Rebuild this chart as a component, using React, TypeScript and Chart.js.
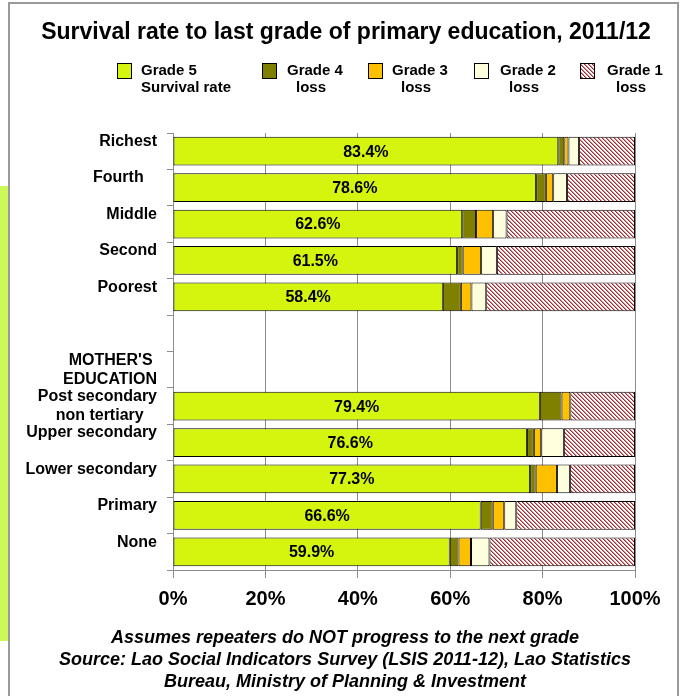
import React, { useEffect, useRef } from "react";
import { Chart, registerables } from "chart.js";
Chart.register(...registerables);

const categories: (string | string[])[] = [
  ["Richest", ""],
  ["Fourth   ", ""],
  ["Middle", ""],
  ["Second", ""],
  ["Poorest", ""],
  "",
  ["MOTHER'S ", "EDUCATION"],
  ["Post secondary", "non tertiary   "],
  ["Upper secondary", ""],
  ["Lower secondary", ""],
  ["Primary", ""],
  ["None", ""],
];

const grade5 = [83.4, 78.6, 62.6, 61.5, 58.4, null, null, 79.4, 76.6, 77.3, 66.6, 59.9];
const grade4 = [1.3, 2.1, 3.0, 1.2, 3.9, null, null, 4.7, 1.5, 1.2, 2.6, 1.9];
const grade3 = [0.9, 1.6, 3.7, 4.0, 2.3, null, null, 1.9, 1.6, 4.6, 2.5, 2.7];
const grade2 = [2.3, 3.0, 2.9, 3.4, 3.2, null, null, 0, 4.9, 2.8, 2.6, 4.0];
const grade1 = [12.1, 14.7, 27.8, 29.9, 32.2, null, null, 14.0, 15.4, 14.1, 25.7, 31.5];

const seriesNames = [
  ["Grade 5", "Survival rate"],
  ["Grade 4", "loss"],
  ["Grade 3", "loss"],
  ["Grade 2", "loss"],
  ["Grade 1", "loss"],
];
const seriesColors = ["#d6f50e", "#808000", "#ffc000", "#ffffdd", "hatch"];

const xTickStep = 20;
const titleText = "Survival rate to last grade of primary education, 2011/12";
const notes = [
  "Assumes repeaters do NOT progress to the next grade",
  "Source: Lao Social Indicators Survey (LSIS 2011-12), Lao Statistics",
  "Bureau, Ministry of Planning & Investment",
];

const SANS = "'Liberation Sans', Arial, sans-serif";

function makeHatch(ctx: CanvasRenderingContext2D): CanvasPattern | string {
  const c = document.createElement("canvas");
  c.width = 4;
  c.height = 4;
  const g = c.getContext("2d");
  if (!g) return "#e0b0b0";
  const img = g.createImageData(4, 4);
  for (let y = 0; y < 4; y++) {
    for (let x = 0; x < 4; x++) {
      const d = (((x - y) % 4) + 4) % 4;
      const col = d === 0 ? [160, 40, 50] : d === 1 ? [215, 145, 145] : [255, 255, 255];
      const i = (y * 4 + x) * 4;
      img.data[i] = col[0];
      img.data[i + 1] = col[1];
      img.data[i + 2] = col[2];
      img.data[i + 3] = 255;
    }
  }
  g.putImageData(img, 0, 0);
  return ctx.createPattern(c, "repeat") || "#e0b0b0";
}

export default function App() {
  const ref = useRef<HTMLCanvasElement | null>(null);

  useEffect(() => {
    const canvas = ref.current;
    if (!canvas) return;
    const ctx0 = canvas.getContext("2d")!;
    const hatch = makeHatch(ctx0);
    const fills = seriesColors.map((c) => (c === "hatch" ? hatch : c));
    const seriesData = [grade5, grade4, grade3, grade2, grade1];

    const decorPlugin = {
      id: "decor",
      afterDatasetsDraw(chart: any) {
        const ctx = chart.ctx as CanvasRenderingContext2D;
        const meta = chart.getDatasetMeta(0);
        ctx.save();
        ctx.fillStyle = "#000";
        ctx.font = `bold 16px ${SANS}`;
        ctx.textAlign = "center";
        ctx.textBaseline = "middle";
        meta.data.forEach((el: any, i: number) => {
          const v = grade5[i];
          if (v === null || v === undefined) return;
          ctx.fillText(v.toFixed(1) + "%", (el.x + el.base) / 2, el.y + 1);
        });
        ctx.restore();
      },
      afterDraw(chart: any) {
        const ctx = chart.ctx as CanvasRenderingContext2D;
        ctx.save();
        ctx.fillStyle = "#000";
        ctx.textBaseline = "middle";
        // title
        ctx.font = `bold 23px ${SANS}`;
        ctx.textAlign = "center";
        ctx.fillText(titleText, 346, 33);
        // legend
        const boxX = [117, 262, 368, 474, 580];
        const textX = [141, 287, 392, 500, 607];
        const line2Off = [0, 9, 9, 9, 9];
        ctx.font = `bold 15px ${SANS}`;
        ctx.textAlign = "left";
        seriesNames.forEach((nm, i) => {
          ctx.fillStyle = fills[i] as any;
          ctx.fillRect(boxX[i], 63, 15, 16);
          ctx.strokeStyle = "#000";
          ctx.lineWidth = 1;
          ctx.strokeRect(boxX[i] + 0.5, 63.5, 14, 15);
          ctx.fillStyle = "#000";
          ctx.fillText(nm[0], textX[i], 71);
          ctx.fillText(nm[1], textX[i] + line2Off[i], 88);
        });
        // notes
        ctx.font = `italic bold 18px ${SANS}`;
        ctx.textAlign = "center";
        notes.forEach((t, i) => ctx.fillText(t, 345, 638 + i * 22));
        ctx.restore();
      },
    };

    const chart = new Chart(canvas, {
      type: "bar",
      data: {
        labels: categories as any,
        datasets: seriesData.map((d, i) => ({
          label: seriesNames[i].join(" "),
          data: d as any,
          backgroundColor: fills[i] as any,
          borderColor: "#000",
          borderWidth: 1,
          borderSkipped: false,
          barPercentage: 0.79,
          categoryPercentage: 1.0,
        })),
      },
      options: {
        responsive: false,
        animation: false,
        indexAxis: "y",
        layout: { padding: { top: 133, right: 45, left: 0, bottom: 0 } },
        plugins: {
          legend: { display: false },
          title: { display: false },
          tooltip: { enabled: false },
        },
        scales: {
          x: {
            stacked: true,
            min: 0,
            max: 100,
            ticks: {
              stepSize: xTickStep,
              callback: (v: any) => v + "%",
              color: "#000",
              padding: 9,
              font: { family: SANS, size: 20, weight: "bold" },
            },
            grid: { color: "#8c8c8c", tickLength: 8, lineWidth: 1 },
            border: { color: "#8c8c8c" },
            afterFit: (s: any) => {
              s.height = 126;
            },
          },
          y: {
            stacked: true,
            ticks: {
              color: "#000",
              padding: 10,
              autoSkip: false,
              font: { family: SANS, size: 16, weight: "bold", lineHeight: 1.2 },
            },
            grid: { offset: true, drawOnChartArea: false, tickLength: 6, color: "#8c8c8c" },
            border: { color: "#8c8c8c" },
            afterFit: (s: any) => {
              s.width = 173;
            },
          },
        },
      } as any,
      plugins: [decorPlugin],
    });
    return () => chart.destroy();
  }, []);

  return (
    <div style={{ position: "fixed", left: 0, top: 0, width: 680, height: 696, background: "#fff", overflow: "hidden" }}>
      <div style={{ position: "absolute", left: 0, top: 186, width: 8, height: 455, background: "#ccf85a" }} />
      <div
        style={{
          position: "absolute",
          left: 8,
          top: 2,
          width: 667,
          height: 720,
          borderLeft: "2px solid #9a9a9a",
          borderTop: "2px solid #9a9a9a",
          borderRight: "2px solid #9a9a9a",
        }}
      />
      <canvas ref={ref} width={680} height={696} style={{ position: "absolute", left: 0, top: 0, width: 680, height: 696 }} />
    </div>
  );
}
